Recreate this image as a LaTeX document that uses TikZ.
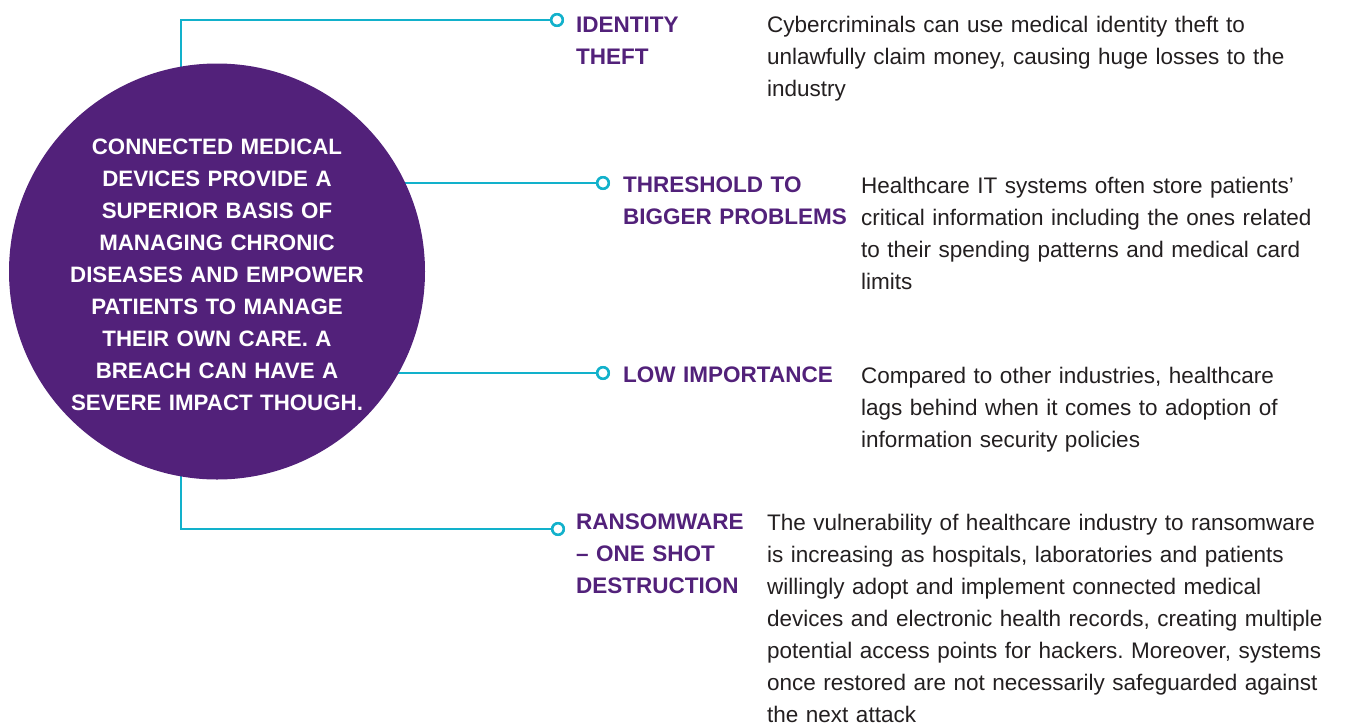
\documentclass[tikz,border=0pt]{standalone}
\usepackage{fontspec}
\setmainfont{Liberation Sans}
\frenchspacing
\definecolor{purp}{HTML}{52217A}
\definecolor{teal}{HTML}{12B1CB}
\definecolor{bodyc}{HTML}{231F20}
\begin{document}
\begin{tikzpicture}[x=1pt,y=-1pt,
  conn/.style={draw=teal,line width=2.6pt},
  ring/.style={circle,draw=teal,line width=2.5pt,fill=white,minimum size=11.5pt,inner sep=0pt},
  head/.style={anchor=base west,inner sep=0pt,text=purp,text width=#1,align=left,
    font=\fontsize{22.5}{32}\selectfont\bfseries},
  body/.style={anchor=base west,inner sep=0pt,text=bodyc,text width=#1,align=left,
    font=\fontsize{22.5}{32}\selectfont},
  bubble/.style={circle,fill=purp,minimum size=416pt,inner sep=0pt},
  bubbletext/.style={anchor=base,inner sep=0pt,text=white,text width=330pt,align=center,
    font=\fontsize{22.3}{32}\selectfont\bfseries}
]
\useasboundingbox (0,0) rectangle (1354,724);
% rings
\node[ring] (r1) at (557,20) {};
\node[ring] (r2) at (603,183) {};
\node[ring] (r3) at (603,373) {};
\node[ring] (r4) at (558,529) {};
\coordinate (k1) at (181,271);
\coordinate (ctr) at (217,271.5);
% connectors (behind the circle)
\draw[conn] (r1.west) -| (k1);
\draw[conn] (r4.west) -| (k1);
\draw[conn] (r2.west) -- (ctr |- r2);
\draw[conn] (r3.west) -- (ctr |- r3);
\node[ring] at (r1) {};
\node[ring] at (r2) {};
\node[ring] at (r3) {};
\node[ring] at (r4) {};
% central circle
\node[bubble] (main) at (ctr) {};
\node[bubbletext] (maintext) at (217,154) {CONNECTED MEDICAL\\DEVICES PROVIDE A\\SUPERIOR BASIS OF\\MANAGING CHRONIC\\DISEASES AND EMPOWER\\PATIENTS TO MANAGE\\THEIR OWN CARE. A\\BREACH CAN HAVE A\\SEVERE IMPACT THOUGH.};
% headings
\node[head=180pt] (h1) at (576,32) {IDENTITY\\THEFT};
\node[head=235pt] (h2) at (623,192) {THRESHOLD TO\\BIGGER PROBLEMS};
\node[head=235pt] (h3) at (623,382) {LOW IMPORTANCE};
\node[head=185pt] (h4) at (576,529) {RANSOMWARE\\-- ONE SHOT\\DESTRUCTION};
% descriptions
\node[body=587pt] (b1) at (767,32) {Cybercriminals can use medical identity theft to\\unlawfully claim money, causing huge losses to the\\industry};
\node[body=493pt] (b2) at (861,193) {Healthcare IT systems often store patients’\\critical information including the ones related\\to their spending patterns and medical card\\limits};
\node[body=493pt] (b3) at (861,383) {Compared to other industries, healthcare\\lags behind when it comes to adoption of\\information security policies};
\node[body=587pt] (b4) at (767,530) {The vulnerability of healthcare industry to ransomware\\is increasing as hospitals, laboratories and patients\\willingly adopt and implement connected medical\\devices and electronic health records, creating multiple\\potential access points for hackers. Moreover, systems\\once restored are not necessarily safeguarded against\\the next attack};
\end{tikzpicture}
\end{document}
